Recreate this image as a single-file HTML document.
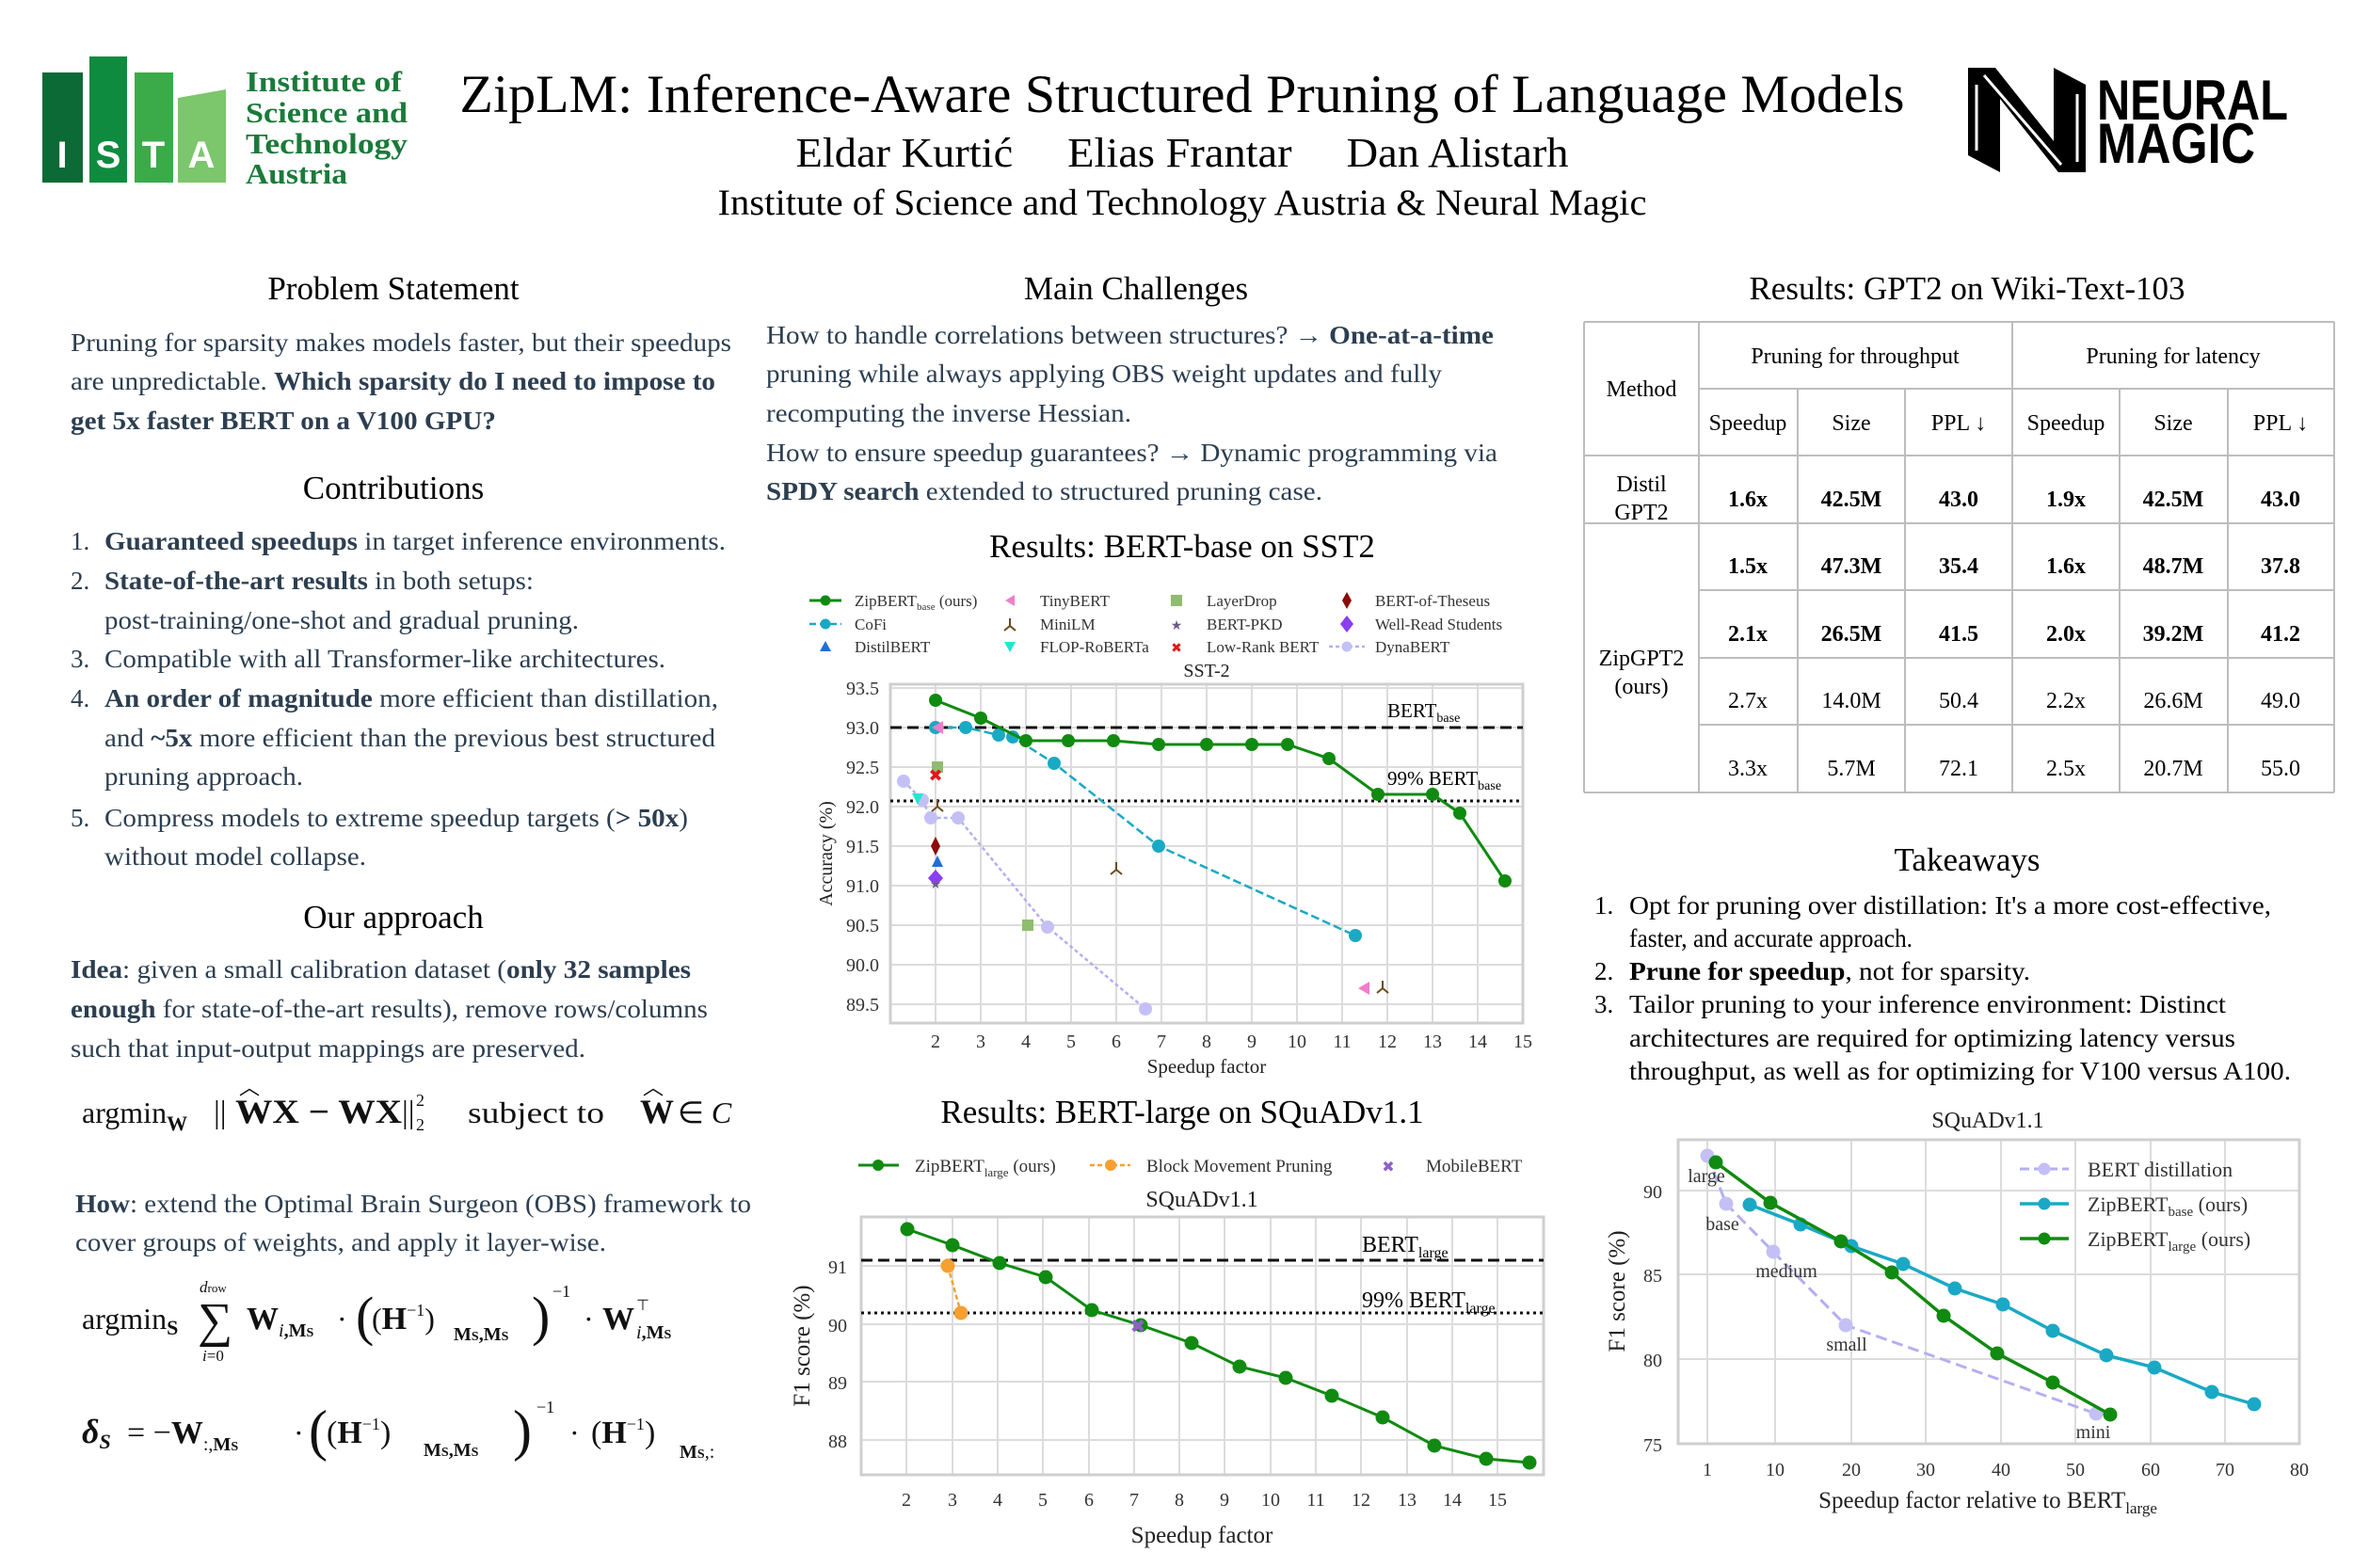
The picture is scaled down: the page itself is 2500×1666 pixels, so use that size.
<!DOCTYPE html>
<html><head><meta charset="utf-8"><style>
html,body{margin:0;padding:0;background:#fff;}
svg{display:block;}
text{font-family:"Liberation Serif",serif;}
.b{fill:#2c3e50;font-size:27px;}
.k{fill:#000;font-size:27px;}
.h{fill:#000;font-size:35px;text-anchor:middle;}
.bold{font-weight:bold;}
.t{font-size:24px;text-anchor:middle;fill:#000;}
.g{stroke:#dcdcdc;stroke-width:2;fill:none;}
.box{stroke:#cfcfcf;stroke-width:3;fill:none;}
.tk{font-size:20px;fill:#333;}
.eq{font-size:32px;fill:#111;}
</style></head><body>
<svg width="2500" height="1666" viewBox="0 0 2500 1666" xmlns="http://www.w3.org/2000/svg">
<rect width="2500" height="1666" fill="#fff"/>
<!-- ISTA logo -->
<rect x="45" y="77" width="43" height="117" fill="#0b6a36"/>
<rect x="95" y="60" width="40" height="134" fill="#0f8b3f"/>
<rect x="143" y="77" width="41" height="117" fill="#3bab4a"/>
<polygon points="189,104 240,95 240,194 189,194" fill="#7cc66c"/>
<g font-family="Liberation Sans" font-weight="bold" font-size="40" fill="#fff" text-anchor="middle">
<text x="66" y="178" style="font-family:'Liberation Sans',sans-serif">I</text><text x="115" y="178" style="font-family:'Liberation Sans',sans-serif">S</text><text x="163" y="178" style="font-family:'Liberation Sans',sans-serif">T</text><text x="214" y="178" style="font-family:'Liberation Sans',sans-serif">A</text></g>
<g fill="#1a7a3a" font-size="31" font-weight="bold">
<text x="261" y="97" textLength="166" lengthAdjust="spacingAndGlyphs">Institute of</text>
<text x="261" y="130" textLength="172" lengthAdjust="spacingAndGlyphs">Science and</text>
<text x="261" y="163" textLength="172" lengthAdjust="spacingAndGlyphs">Technology</text>
<text x="261" y="195" textLength="108" lengthAdjust="spacingAndGlyphs">Austria</text></g>
<!-- Title -->
<text x="1256" y="119" font-size="57" text-anchor="middle" textLength="1535" lengthAdjust="spacingAndGlyphs">ZipLM: Inference-Aware Structured Pruning of Language Models</text>
<text x="1256" y="177" font-size="44" text-anchor="middle" textLength="821" lengthAdjust="spacingAndGlyphs" xml:space="preserve">Eldar Kurtić     Elias Frantar     Dan Alistarh</text>
<text x="1256" y="228" font-size="39" text-anchor="middle" textLength="987" lengthAdjust="spacingAndGlyphs">Institute of Science and Technology Austria &amp; Neural Magic</text>
<!-- Neural Magic -->
<polygon points="2091,72 2120,72 2182,150 2182,72 2216,90 2216,183 2187,183 2125,105 2125,183 2091,165" fill="#000"/>
<polyline points="2100,90 2100,160" stroke="#fff" stroke-width="3" fill="none"/>
<polyline points="2108,80 2190,175" stroke="#fff" stroke-width="3" fill="none"/>
<polyline points="2207,100 2207,172" stroke="#fff" stroke-width="3" fill="none"/>
<text x="2228" y="127" font-size="60" font-weight="bold" textLength="203" lengthAdjust="spacingAndGlyphs" style="font-family:'Liberation Sans Narrow','Liberation Sans',sans-serif">NEURAL</text>
<text x="2228" y="173" font-size="60" font-weight="bold" textLength="168" lengthAdjust="spacingAndGlyphs" style="font-family:'Liberation Sans Narrow','Liberation Sans',sans-serif">MAGIC</text>

<!-- Headings -->
<text class="h" x="418" y="318">Problem Statement</text>
<text class="h" x="418" y="530">Contributions</text>
<text class="h" x="418" y="986">Our approach</text>
<text class="h" x="1207" y="318">Main Challenges</text>
<text class="h" x="1256" y="592">Results: BERT-base on SST2</text>
<text class="h" x="1256" y="1193">Results: BERT-large on SQuADv1.1</text>
<text class="h" x="2090" y="318">Results: GPT2 on Wiki-Text-103</text>
<text class="h" x="2090" y="925">Takeaways</text>

<!-- Left column -->
<text class="b" x="75" y="373" textLength="702" lengthAdjust="spacingAndGlyphs">Pruning for sparsity makes models faster, but their speedups</text>
<text class="b" x="75" y="414" textLength="685" lengthAdjust="spacingAndGlyphs">are unpredictable. <tspan class="bold">Which sparsity do I need to impose to</tspan></text>
<text class="b bold" x="75" y="456" textLength="452" lengthAdjust="spacingAndGlyphs">get 5x faster BERT on a V100 GPU?</text>
<g class="b">
<text class="b" x="75" y="584">1.</text><text class="b" x="111" y="584" textLength="660" lengthAdjust="spacingAndGlyphs"><tspan class="bold">Guaranteed speedups</tspan> in target inference environments.</text>
<text class="b" x="75" y="626">2.</text><text class="b" x="111" y="626" textLength="456" lengthAdjust="spacingAndGlyphs"><tspan class="bold">State-of-the-art results</tspan> in both setups:</text>
<text class="b" x="111" y="668" textLength="504" lengthAdjust="spacingAndGlyphs">post-training/one-shot and gradual pruning.</text>
<text class="b" x="75" y="709">3.</text><text class="b" x="111" y="709" textLength="596" lengthAdjust="spacingAndGlyphs">Compatible with all Transformer-like architectures.</text>
<text class="b" x="75" y="751">4.</text><text class="b" x="111" y="751" textLength="652" lengthAdjust="spacingAndGlyphs"><tspan class="bold">An order of magnitude</tspan> more efficient than distillation,</text>
<text class="b" x="111" y="793" textLength="649" lengthAdjust="spacingAndGlyphs">and <tspan class="bold">~5x</tspan> more efficient than the previous best structured</text>
<text class="b" x="111" y="834" textLength="211" lengthAdjust="spacingAndGlyphs">pruning approach.</text>
<text class="b" x="75" y="878">5.</text><text class="b" x="111" y="878" textLength="620" lengthAdjust="spacingAndGlyphs">Compress models to extreme speedup targets (<tspan class="bold">&gt; 50x</tspan>)</text>
<text class="b" x="111" y="919" textLength="278" lengthAdjust="spacingAndGlyphs">without model collapse.</text>
</g>
<text class="b" x="75" y="1039" textLength="659" lengthAdjust="spacingAndGlyphs"><tspan class="bold">Idea</tspan>: given a small calibration dataset (<tspan class="bold">only 32 samples</tspan></text>
<text class="b" x="75" y="1081" textLength="677" lengthAdjust="spacingAndGlyphs"><tspan class="bold">enough</tspan> for state-of-the-art results), remove rows/columns</text>
<text class="b" x="75" y="1123" textLength="547" lengthAdjust="spacingAndGlyphs">such that input-output mappings are preserved.</text>
<text class="b" x="80" y="1288" textLength="718" lengthAdjust="spacingAndGlyphs"><tspan class="bold">How</tspan>: extend the Optimal Brain Surgeon (OBS) framework to</text>
<text class="b" x="80" y="1329" textLength="564" lengthAdjust="spacingAndGlyphs">cover groups of weights, and apply it layer-wise.</text>

<!-- Equations -->
<g class="eq">
<text x="87" y="1193" font-size="32">argmin<tspan font-size="22" dy="8" font-weight="bold">W</tspan></text>
<text x="227" y="1193" font-size="34">||</text>
<text x="250" y="1193" font-size="36" font-weight="bold" textLength="177" lengthAdjust="spacingAndGlyphs">WX − WX</text>
<text x="254" y="1163" font-size="22">︿</text>
<text x="427" y="1193" font-size="34">||</text>
<text x="442" y="1175" font-size="18">2</text><text x="442" y="1201" font-size="18">2</text>
<text x="497" y="1193" font-size="32" textLength="145" lengthAdjust="spacingAndGlyphs">subject to</text>
<text x="680" y="1193" font-size="36" font-weight="bold">W</text><text x="683" y="1163" font-size="22">︿</text>
<text x="720" y="1193" font-size="32">∈ <tspan font-style="italic">C</tspan></text>

<text x="87" y="1412" font-size="32">argmin<tspan font-size="22" dy="6" font-weight="bold">S</tspan></text>
<text x="210" y="1420" font-size="52">∑</text>
<text x="212" y="1373" font-size="17" font-style="italic">d<tspan font-style="normal" font-size="13">row</tspan></text>
<text x="215" y="1446" font-size="17" font-style="italic">i<tspan font-style="normal">=0</tspan></text>
<text x="262" y="1412" font-size="34" font-weight="bold">W<tspan font-size="20" dy="8" font-weight="normal" font-style="italic">i</tspan><tspan font-size="20" dy="0" font-weight="bold">,M</tspan><tspan font-size="14" font-weight="bold">S</tspan></text>
<text x="358" y="1412" font-size="32">·</text>
<text x="378" y="1418" font-size="58">(</text>
<text x="395" y="1412" font-size="34"><tspan font-size="32">(</tspan><tspan font-weight="bold">H</tspan><tspan font-size="18" dy="-14">−1</tspan><tspan font-size="32" dy="14">)</tspan></text>
<text x="482" y="1424" font-size="20" font-weight="bold">M<tspan font-size="14">S</tspan>,M<tspan font-size="14">S</tspan></text>
<text x="565" y="1418" font-size="58">)</text>
<text x="587" y="1378" font-size="18">−1</text>
<text x="620" y="1412" font-size="32">·</text>
<text x="640" y="1412" font-size="34" font-weight="bold">W</text>
<text x="676" y="1392" font-size="16">⊤</text>
<text x="676" y="1422" font-size="20"><tspan font-style="italic">i</tspan><tspan font-weight="bold">,M</tspan><tspan font-size="14" font-weight="bold">S</tspan></text>

<text x="87" y="1533" font-size="36" font-weight="bold" font-style="italic">δ<tspan font-size="22" dy="6">S</tspan></text>
<text x="135" y="1533" font-size="34">= −<tspan font-weight="bold">W</tspan><tspan font-size="20" dy="8">:,</tspan><tspan font-size="20" font-weight="bold">M</tspan><tspan font-size="14" font-weight="bold">S</tspan></text>
<text x="312" y="1533" font-size="32">·</text>
<text x="328" y="1540" font-size="60">(</text>
<text x="347" y="1533" font-size="34"><tspan>(</tspan><tspan font-weight="bold">H</tspan><tspan font-size="18" dy="-14">−1</tspan><tspan dy="14">)</tspan></text>
<text x="450" y="1547" font-size="20" font-weight="bold">M<tspan font-size="14">S</tspan>,M<tspan font-size="14">S</tspan></text>
<text x="545" y="1540" font-size="60">)</text>
<text x="570" y="1501" font-size="18">−1</text>
<text x="605" y="1533" font-size="32">·</text>
<text x="628" y="1533" font-size="34"><tspan>(</tspan><tspan font-weight="bold">H</tspan><tspan font-size="18" dy="-14">−1</tspan><tspan dy="14">)</tspan></text>
<text x="722" y="1549" font-size="20" font-weight="bold">M<tspan font-size="14">S</tspan><tspan font-weight="normal">,:</tspan></text>
</g>

<!-- Middle text -->
<text class="b" x="814" y="365" textLength="773" lengthAdjust="spacingAndGlyphs">How to handle correlations between structures? → <tspan class="bold">One-at-a-time</tspan></text>
<text class="b" x="814" y="406" textLength="718" lengthAdjust="spacingAndGlyphs">pruning while always applying OBS weight updates and fully</text>
<text class="b" x="814" y="448" textLength="388" lengthAdjust="spacingAndGlyphs">recomputing the inverse Hessian.</text>
<text class="b" x="814" y="490" textLength="777" lengthAdjust="spacingAndGlyphs">How to ensure speedup guarantees? → Dynamic programming via</text>
<text class="b" x="814" y="531" textLength="591" lengthAdjust="spacingAndGlyphs"><tspan class="bold">SPDY search</tspan> extended to structured pruning case.</text>

<!-- Takeaways -->
<text class="k" x="1694" y="971">1.</text><text class="k" x="1731" y="971" textLength="682" lengthAdjust="spacingAndGlyphs">Opt for pruning over distillation: It's a more cost-effective,</text>
<text class="k" x="1731" y="1006" textLength="301" lengthAdjust="spacingAndGlyphs">faster, and accurate approach.</text>
<text class="k" x="1694" y="1041">2.</text><text class="k" x="1731" y="1041" textLength="426" lengthAdjust="spacingAndGlyphs"><tspan class="bold">Prune for speedup</tspan>, not for sparsity.</text>
<text class="k" x="1694" y="1076">3.</text><text class="k" x="1731" y="1076" textLength="634" lengthAdjust="spacingAndGlyphs">Tailor pruning to your inference environment: Distinct</text>
<text class="k" x="1731" y="1112" textLength="644" lengthAdjust="spacingAndGlyphs">architectures are required for optimizing latency versus</text>
<text class="k" x="1731" y="1147" textLength="703" lengthAdjust="spacingAndGlyphs">throughput, as well as for optimizing for V100 versus A100.</text>

<!-- Table -->
<g stroke="#bdbdbd" stroke-width="2">
<line x1="1683" y1="342" x2="2480" y2="342"/><line x1="1805" y1="413" x2="2480" y2="413"/>
<line x1="1683" y1="484" x2="2480" y2="484"/><line x1="1683" y1="556" x2="2480" y2="556"/>
<line x1="1805" y1="627" x2="2480" y2="627"/><line x1="1805" y1="699" x2="2480" y2="699"/>
<line x1="1805" y1="770" x2="2480" y2="770"/><line x1="1683" y1="842" x2="2480" y2="842"/>
<line x1="1683" y1="342" x2="1683" y2="842"/><line x1="1805" y1="342" x2="1805" y2="842"/>
<line x1="1910" y1="413" x2="1910" y2="842"/><line x1="2024" y1="413" x2="2024" y2="842"/>
<line x1="2138" y1="342" x2="2138" y2="842"/><line x1="2252" y1="413" x2="2252" y2="842"/>
<line x1="2367" y1="413" x2="2367" y2="842"/><line x1="2480" y1="342" x2="2480" y2="842"/>
</g>
<g class="t">
<text class="t" x="1744" y="421">Method</text>
<text class="t" x="1971" y="386">Pruning for throughput</text>
<text class="t" x="2309" y="386">Pruning for latency</text>
<text class="t" x="1857" y="457">Speedup</text><text class="t" x="1967" y="457">Size</text><text class="t" x="2081" y="457">PPL ↓</text>
<text class="t" x="2195" y="457">Speedup</text><text class="t" x="2309" y="457">Size</text><text class="t" x="2423" y="457">PPL ↓</text>
<text class="t" x="1744" y="522">Distil</text><text class="t" x="1744" y="552">GPT2</text>
<text class="t" x="1744" y="707">ZipGPT2</text><text class="t" x="1744" y="737">(ours)</text>
</g>
<g class="t" font-weight="bold">
<text class="t bold" x="1857" y="538">1.6x</text><text class="t bold" x="1967" y="538">42.5M</text><text class="t bold" x="2081" y="538">43.0</text><text class="t bold" x="2195" y="538">1.9x</text><text class="t bold" x="2309" y="538">42.5M</text><text class="t bold" x="2423" y="538">43.0</text>
<text class="t bold" x="1857" y="609">1.5x</text><text class="t bold" x="1967" y="609">47.3M</text><text class="t bold" x="2081" y="609">35.4</text><text class="t bold" x="2195" y="609">1.6x</text><text class="t bold" x="2309" y="609">48.7M</text><text class="t bold" x="2423" y="609">37.8</text>
<text class="t bold" x="1857" y="681">2.1x</text><text class="t bold" x="1967" y="681">26.5M</text><text class="t bold" x="2081" y="681">41.5</text><text class="t bold" x="2195" y="681">2.0x</text><text class="t bold" x="2309" y="681">39.2M</text><text class="t bold" x="2423" y="681">41.2</text>
</g>
<g>
<text class="t" x="1857" y="752">2.7x</text><text class="t" x="1967" y="752">14.0M</text><text class="t" x="2081" y="752">50.4</text><text class="t" x="2195" y="752">2.2x</text><text class="t" x="2309" y="752">26.6M</text><text class="t" x="2423" y="752">49.0</text>
<text class="t" x="1857" y="824">3.3x</text><text class="t" x="1967" y="824">5.7M</text><text class="t" x="2081" y="824">72.1</text><text class="t" x="2195" y="824">2.5x</text><text class="t" x="2309" y="824">20.7M</text><text class="t" x="2423" y="824">55.0</text>
</g>

<!-- ===== Chart 1: SST-2 ===== -->
<g class="g">
<path d="M994 727V1087M1042 727V1087M1090 727V1087M1138 727V1087M1186 727V1087M1234 727V1087M1282 727V1087M1330 727V1087M1378 727V1087M1426 727V1087M1474 727V1087M1522 727V1087M1570 727V1087"/>
<path d="M946 731H1618M946 773H1618M946 815H1618M946 857H1618M946 899H1618M946 941H1618M946 983H1618M946 1025H1618M946 1067H1618"/>
</g>
<rect class="box" x="946" y="727" width="672" height="360"/>
<line x1="946" y1="773" x2="1618" y2="773" stroke="#111" stroke-width="3" stroke-dasharray="12,6"/>
<line x1="946" y1="851" x2="1618" y2="851" stroke="#111" stroke-width="3" stroke-dasharray="3,4"/>
<text x="1474" y="762" font-size="21">BERT<tspan font-size="14" dy="5">base</tspan></text>
<text x="1474" y="834" font-size="21">99% BERT<tspan font-size="14" dy="5">base</tspan></text>
<polyline points="960,830 980,850 989,869 1018,869 1113,985 1217,1072" fill="none" stroke="#b3aff2" stroke-width="2.5" stroke-dasharray="4,3"/>
<g fill="#c4c0f6"><circle cx="960" cy="830" r="7"/><circle cx="980" cy="850" r="7"/><circle cx="989" cy="869" r="7"/><circle cx="1018" cy="869" r="7"/><circle cx="1113" cy="985" r="7"/><circle cx="1217" cy="1072" r="7"/></g>
<polyline points="994,773 1026,773 1061,781 1076,783 1120,811 1231,899 1440,994" fill="none" stroke="#1aa9c4" stroke-width="2.5" stroke-dasharray="9,4"/>
<g fill="#1aa9c4"><circle cx="994" cy="773" r="7"/><circle cx="1026" cy="773" r="7"/><circle cx="1061" cy="781" r="7"/><circle cx="1076" cy="783" r="7"/><circle cx="1120" cy="811" r="7"/><circle cx="1231" cy="899" r="7"/><circle cx="1440" cy="994" r="7"/></g>
<polyline points="994,744 1042,763 1090,787 1135,787 1183,787 1231,791 1282,791 1330,791 1368,791 1412,806 1464,844 1522,844 1551,864 1599,936" fill="none" stroke="#108a10" stroke-width="3"/>
<g fill="#108a10"><circle cx="994" cy="744" r="7"/><circle cx="1042" cy="763" r="7"/><circle cx="1090" cy="787" r="7"/><circle cx="1135" cy="787" r="7"/><circle cx="1183" cy="787" r="7"/><circle cx="1231" cy="791" r="7"/><circle cx="1282" cy="791" r="7"/><circle cx="1330" cy="791" r="7"/><circle cx="1368" cy="791" r="7"/><circle cx="1412" cy="806" r="7"/><circle cx="1464" cy="844" r="7"/><circle cx="1522" cy="844" r="7"/><circle cx="1551" cy="864" r="7"/><circle cx="1599" cy="936" r="7"/></g>
<!-- singles -->
<polygon points="990,773 1002,766 1002,780" fill="#f07ec8"/><polygon points="1443,1050 1455,1043 1455,1057" fill="#f07ec8"/>
<g stroke="#6b4a1a" stroke-width="2" fill="none"><path d="M996 857v-8M996 857l-6 5M996 857l6 5"/><path d="M1186 924v-8M1186 924l-6 5M1186 924l6 5"/><path d="M1469 1050v-8M1469 1050l-6 5M1469 1050l6 5"/><path d="M1073 665v-8M1073 665l-6 5M1073 665l6 5"/></g>
<rect x="990" y="809" width="12" height="12" fill="#8fbc6f"/><rect x="1086" y="977" width="12" height="12" fill="#8fbc6f"/>
<text x="994" y="830" font-size="18" fill="#e01818" text-anchor="middle" font-weight="bold" style="font-family:'DejaVu Sans',sans-serif">✖</text>
<polygon points="969,843 981,843 975,855" fill="#20e8d0"/>
<polygon points="994,889 999,899 994,909 989,899" fill="#8b0a0a"/>
<polygon points="996,909 1002,921 990,921" fill="#1f6fd6"/>
<polygon points="994,924 1002,933 994,942 986,933" fill="#8a3ff0"/>
<text x="994" y="944" font-size="14" fill="#6c5a8a" text-anchor="middle" style="font-family:'DejaVu Sans',sans-serif">★</text>
<!-- axes labels -->
<g class="tk" text-anchor="end" font-size="20">
<text x="934" y="738">93.5</text><text x="934" y="780">93.0</text><text x="934" y="822">92.5</text><text x="934" y="864">92.0</text><text x="934" y="906">91.5</text><text x="934" y="948">91.0</text><text x="934" y="990">90.5</text><text x="934" y="1032">90.0</text><text x="934" y="1074">89.5</text>
</g>
<g class="tk" text-anchor="middle" font-size="20">
<text x="994" y="1113">2</text><text x="1042" y="1113">3</text><text x="1090" y="1113">4</text><text x="1138" y="1113">5</text><text x="1186" y="1113">6</text><text x="1234" y="1113">7</text><text x="1282" y="1113">8</text><text x="1330" y="1113">9</text><text x="1378" y="1113">10</text><text x="1426" y="1113">11</text><text x="1474" y="1113">12</text><text x="1522" y="1113">13</text><text x="1570" y="1113">14</text><text x="1618" y="1113">15</text>
</g>
<text x="1282" y="1140" font-size="21" text-anchor="middle" fill="#222">Speedup factor</text>
<text x="1282" y="719" font-size="20" text-anchor="middle" fill="#222">SST-2</text>
<text transform="translate(884,907) rotate(-90)" font-size="20" text-anchor="middle" fill="#222">Accuracy (%)</text>
<!-- legend chart1 -->
<g font-size="17" fill="#333">
<line x1="860" y1="638" x2="894" y2="638" stroke="#108a10" stroke-width="3"/><circle cx="877" cy="638" r="5.5" fill="#108a10"/>
<text x="908" y="644">ZipBERT<tspan font-size="11" dy="4">base</tspan><tspan dy="-4"> (ours)</tspan></text>
<line x1="860" y1="663" x2="894" y2="663" stroke="#1aa9c4" stroke-width="2.5" stroke-dasharray="7,4"/><circle cx="877" cy="663" r="5.5" fill="#1aa9c4"/>
<text x="908" y="669">CoFi</text>
<polygon points="877,681 883,692 871,692" fill="#1f6fd6"/><text x="908" y="693">DistilBERT</text>
<polygon points="1068,638 1078,632 1078,644" fill="#f07ec8"/><text x="1105" y="644">TinyBERT</text>
<text x="1105" y="669">MiniLM</text>
<polygon points="1067,682 1079,682 1073,693" fill="#20e8d0"/><text x="1105" y="693">FLOP-RoBERTa</text>
<rect x="1244" y="632" width="12" height="12" fill="#8fbc6f"/><text x="1282" y="644">LayerDrop</text>
<text x="1250" y="669" font-size="14" fill="#6c5a8a" text-anchor="middle" style="font-family:'DejaVu Sans',sans-serif">★</text><text x="1282" y="669">BERT-PKD</text>
<text x="1250" y="693" font-size="14" fill="#e01818" text-anchor="middle" style="font-family:'DejaVu Sans',sans-serif">✖</text><text x="1282" y="693">Low-Rank BERT</text>
<polygon points="1431,629 1436,638 1431,647 1426,638" fill="#8b0a0a"/><text x="1461" y="644">BERT-of-Theseus</text>
<polygon points="1431,654 1438,663 1431,672 1424,663" fill="#8a3ff0"/><text x="1461" y="669">Well-Read Students</text>
<line x1="1412" y1="687" x2="1450" y2="687" stroke="#b3aff2" stroke-width="2.5" stroke-dasharray="4,3"/><circle cx="1431" cy="687" r="5.5" fill="#c4c0f6"/><text x="1461" y="693">DynaBERT</text>
</g>

<!-- ===== Chart 2: SQuAD BERT-large ===== -->
<g class="g">
<path d="M963 1293V1567M1012 1293V1567M1060 1293V1567M1108 1293V1567M1157 1293V1567M1205 1293V1567M1253 1293V1567M1301 1293V1567M1350 1293V1567M1398 1293V1567M1446 1293V1567M1495 1293V1567M1543 1293V1567M1591 1293V1567"/>
<path d="M915 1345H1640M915 1407H1640M915 1468H1640M915 1530H1640"/>
</g>
<rect class="box" x="915" y="1293" width="725" height="274"/>
<line x1="915" y1="1339" x2="1640" y2="1339" stroke="#111" stroke-width="3" stroke-dasharray="12,6"/>
<line x1="915" y1="1395" x2="1640" y2="1395" stroke="#111" stroke-width="3" stroke-dasharray="3,4"/>
<text x="1447" y="1330" font-size="24">BERT<tspan font-size="16" dy="6">large</tspan></text>
<text x="1447" y="1389" font-size="24">99% BERT<tspan font-size="16" dy="6">large</tspan></text>
<polyline points="1007,1345 1021,1395" fill="none" stroke="#f5a030" stroke-width="2.5" stroke-dasharray="5,3"/>
<circle cx="1007" cy="1345" r="7.5" fill="#f5a030"/><circle cx="1021" cy="1395" r="7.5" fill="#f5a030"/>
<polyline points="964,1306 1012,1323 1062,1342 1111,1357 1160,1392 1212,1408 1266,1427 1317,1452 1366,1464 1415,1483 1469,1506 1524,1536 1579,1550 1625,1554" fill="none" stroke="#108a10" stroke-width="3"/>
<g fill="#108a10"><circle cx="964" cy="1306" r="7.5"/><circle cx="1012" cy="1323" r="7.5"/><circle cx="1062" cy="1342" r="7.5"/><circle cx="1111" cy="1357" r="7.5"/><circle cx="1160" cy="1392" r="7.5"/><circle cx="1212" cy="1408" r="7.5"/><circle cx="1266" cy="1427" r="7.5"/><circle cx="1317" cy="1452" r="7.5"/><circle cx="1366" cy="1464" r="7.5"/><circle cx="1415" cy="1483" r="7.5"/><circle cx="1469" cy="1506" r="7.5"/><circle cx="1524" cy="1536" r="7.5"/><circle cx="1579" cy="1550" r="7.5"/><circle cx="1625" cy="1554" r="7.5"/></g>
<text x="1209" y="1416" font-size="20" fill="#9060c8" text-anchor="middle" style="font-family:'DejaVu Sans',sans-serif">✖</text>
<g class="tk" text-anchor="end" font-size="24">
<text x="900" y="1353">91</text><text x="900" y="1415">90</text><text x="900" y="1476">89</text><text x="900" y="1538">88</text></g>
<g class="tk" text-anchor="middle" font-size="24">
<text x="963" y="1600">2</text><text x="1012" y="1600">3</text><text x="1060" y="1600">4</text><text x="1108" y="1600">5</text><text x="1157" y="1600">6</text><text x="1205" y="1600">7</text><text x="1253" y="1600">8</text><text x="1301" y="1600">9</text><text x="1350" y="1600">10</text><text x="1398" y="1600">11</text><text x="1446" y="1600">12</text><text x="1495" y="1600">13</text><text x="1543" y="1600">14</text><text x="1591" y="1600">15</text></g>
<text x="1277" y="1639" font-size="25" text-anchor="middle" fill="#222">Speedup factor</text>
<text x="1277" y="1282" font-size="24" text-anchor="middle" fill="#222">SQuADv1.1</text>
<text transform="translate(860,1430) rotate(-90)" font-size="25" text-anchor="middle" fill="#222">F1 score (%)</text>
<g font-size="19" fill="#333">
<line x1="912" y1="1238" x2="955" y2="1238" stroke="#108a10" stroke-width="3"/><circle cx="933" cy="1238" r="6" fill="#108a10"/>
<text x="972" y="1245">ZipBERT<tspan font-size="13" dy="5">large</tspan><tspan dy="-5"> (ours)</tspan></text>
<line x1="1158" y1="1238" x2="1201" y2="1238" stroke="#f5a030" stroke-width="2.5" stroke-dasharray="5,3"/><circle cx="1180" cy="1238" r="6" fill="#f5a030"/>
<text x="1218" y="1245">Block Movement Pruning</text>
<text x="1475" y="1245" font-size="16" fill="#9060c8" text-anchor="middle" style="font-family:'DejaVu Sans',sans-serif">✖</text>
<text x="1515" y="1245">MobileBERT</text></g>

<!-- ===== Chart 3 ===== -->
<g class="g">
<path d="M1814 1211V1534M1886 1211V1534M1967 1211V1534M2046 1211V1534M2126 1211V1534M2205 1211V1534M2285 1211V1534M2364 1211V1534"/>
<path d="M1783 1265H2443M1783 1354H2443M1783 1444H2443"/>
</g>
<rect class="box" x="1783" y="1211" width="660" height="323"/>
<polyline points="1814,1228 1834,1279 1884,1330 1961,1408 2227,1502" fill="none" stroke="#b3aff2" stroke-width="3" stroke-dasharray="12,6"/>
<g fill="#c4c0f6"><circle cx="1814" cy="1228" r="7.5"/><circle cx="1834" cy="1279" r="7.5"/><circle cx="1884" cy="1330" r="7.5"/><circle cx="1961" cy="1408" r="7.5"/><circle cx="2227" cy="1502" r="7.5"/></g>
<polyline points="1859,1280 1913,1301 1967,1324 2022,1343 2077,1369 2128,1386 2181,1414 2238,1440 2289,1453 2350,1479 2395,1492" fill="none" stroke="#1aa9c4" stroke-width="3.5"/>
<g fill="#1aa9c4"><circle cx="1859" cy="1280" r="7.5"/><circle cx="1913" cy="1301" r="7.5"/><circle cx="1967" cy="1324" r="7.5"/><circle cx="2022" cy="1343" r="7.5"/><circle cx="2077" cy="1369" r="7.5"/><circle cx="2128" cy="1386" r="7.5"/><circle cx="2181" cy="1414" r="7.5"/><circle cx="2238" cy="1440" r="7.5"/><circle cx="2289" cy="1453" r="7.5"/><circle cx="2350" cy="1479" r="7.5"/><circle cx="2395" cy="1492" r="7.5"/></g>
<polyline points="1823,1235 1881,1278 1956,1319 2010,1352 2065,1398 2122,1438 2181,1469 2242,1503" fill="none" stroke="#108a10" stroke-width="3.5"/>
<g fill="#108a10"><circle cx="1823" cy="1235" r="7.5"/><circle cx="1881" cy="1278" r="7.5"/><circle cx="1956" cy="1319" r="7.5"/><circle cx="2010" cy="1352" r="7.5"/><circle cx="2065" cy="1398" r="7.5"/><circle cx="2122" cy="1438" r="7.5"/><circle cx="2181" cy="1469" r="7.5"/><circle cx="2242" cy="1503" r="7.5"/></g>
<g font-size="20" fill="#333" text-anchor="middle">
<text x="1813" y="1256">large</text><text x="1830" y="1307">base</text><text x="1898" y="1357">medium</text><text x="1962" y="1435">small</text><text x="2224" y="1528">mini</text></g>
<g class="tk" text-anchor="end" font-size="25">
<text x="1766" y="1273">90</text><text x="1766" y="1362">85</text><text x="1766" y="1452">80</text><text x="1766" y="1542">75</text></g>
<g class="tk" text-anchor="middle" font-size="25">
<text x="1814" y="1568">1</text><text x="1886" y="1568">10</text><text x="1967" y="1568">20</text><text x="2046" y="1568">30</text><text x="2126" y="1568">40</text><text x="2205" y="1568">50</text><text x="2285" y="1568">60</text><text x="2364" y="1568">70</text><text x="2443" y="1568">80</text></g>
<text x="2112" y="1198" font-size="24" text-anchor="middle" fill="#222">SQuADv1.1</text>
<text x="2112" y="1602" font-size="25" text-anchor="middle" fill="#222">Speedup factor relative to BERT<tspan font-size="17" dy="6">large</tspan></text>
<text transform="translate(1726,1372) rotate(-90)" font-size="25" text-anchor="middle" fill="#222">F1 score (%)</text>
<g font-size="22" fill="#333">
<line x1="2146" y1="1242" x2="2198" y2="1242" stroke="#b3aff2" stroke-width="3" stroke-dasharray="10,5"/><circle cx="2172" cy="1242" r="6.5" fill="#c4c0f6"/>
<text x="2218" y="1250">BERT distillation</text>
<line x1="2146" y1="1279" x2="2198" y2="1279" stroke="#1aa9c4" stroke-width="3.5"/><circle cx="2172" cy="1279" r="6.5" fill="#1aa9c4"/>
<text x="2218" y="1287">ZipBERT<tspan font-size="15" dy="5">base</tspan><tspan dy="-5"> (ours)</tspan></text>
<line x1="2146" y1="1316" x2="2198" y2="1316" stroke="#108a10" stroke-width="3.5"/><circle cx="2172" cy="1316" r="6.5" fill="#108a10"/>
<text x="2218" y="1324">ZipBERT<tspan font-size="15" dy="5">large</tspan><tspan dy="-5"> (ours)</tspan></text>
</g>
</svg>
</body></html>
